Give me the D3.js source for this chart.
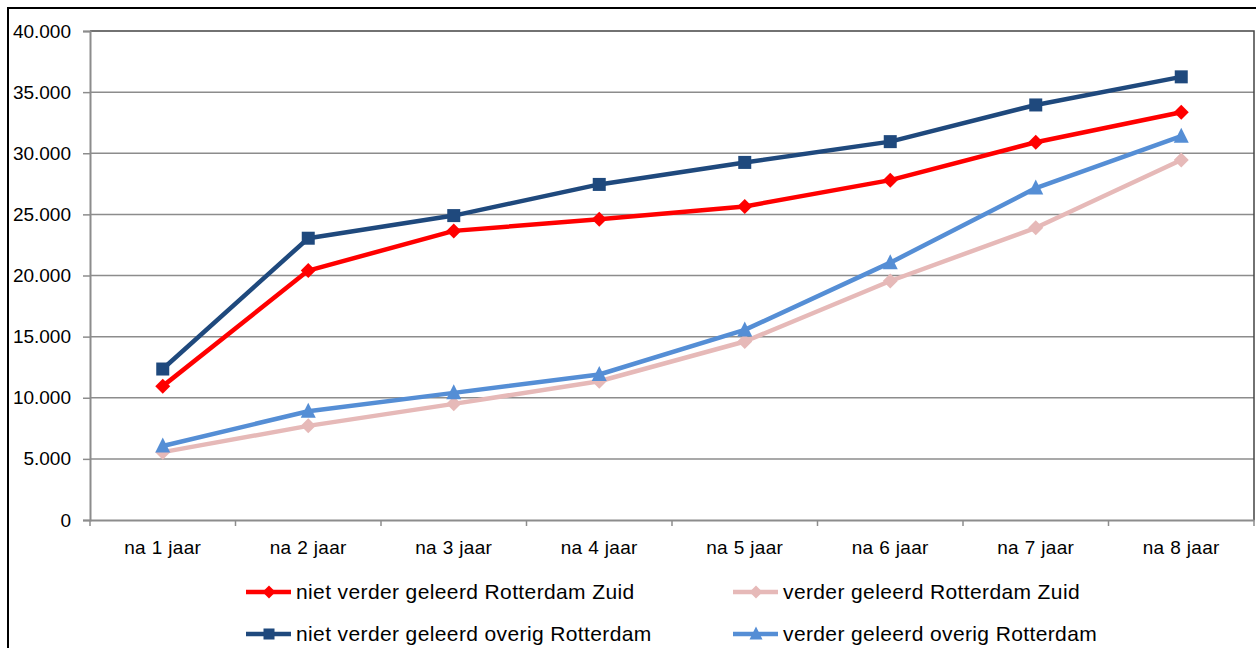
<!DOCTYPE html>
<html>
<head>
<meta charset="utf-8">
<script src="https://cdn.jsdelivr.net/npm/d3@7"></script>
<style>
  body { margin: 0; background: #fff; }
  text { font-family: "Liberation Sans", Arial, sans-serif; fill: #000; }
</style>
</head>
<body>
<script>
// Data
const categories = ["na 1 jaar", "na 2 jaar", "na 3 jaar", "na 4 jaar", "na 5 jaar", "na 6 jaar", "na 7 jaar", "na 8 jaar"];
const nietZuid = [10950, 20400, 23650, 24600, 25650, 27800, 30900, 33350];
const verderZuid = [5550, 7700, 9500, 11350, 14600, 19550, 23900, 29450];
const nietOverig = [12350, 23050, 24900, 27450, 29250, 30950, 33950, 36250];
const verderOverig = [6050, 8900, 10400, 11900, 15550, 21050, 27150, 31400];
const yTicks = [0, 5000, 10000, 15000, 20000, 25000, 30000, 35000, 40000];

const series = [
  { name: "niet verder geleerd Rotterdam Zuid", values: nietZuid, color: "#ff0000", marker: "diamond" },
  { name: "verder geleerd Rotterdam Zuid", values: verderZuid, color: "#e6b9b8", marker: "diamond" },
  { name: "niet verder geleerd overig Rotterdam", values: nietOverig, color: "#1f497d", marker: "square" },
  { name: "verder geleerd overig Rotterdam", values: verderOverig, color: "#558ed5", marker: "triangle" }
];

const W = 1256, H = 648;
const plot = { left: 90, right: 1254, top: 31, bottom: 520 };

const svg = d3.select("body").append("svg")
  .attr("width", W)
  .attr("height", H);

// outer frame
svg.append("rect")
  .attr("x", 8).attr("y", 8)
  .attr("width", 1262).attr("height", 700)
  .attr("fill", "none").attr("stroke", "#000").attr("stroke-width", 2);

const x = d3.scaleBand().domain(categories).range([plot.left, plot.right]);
const y = d3.scaleLinear().domain([0, 40000]).range([plot.bottom, plot.top]);

// gridlines
svg.append("g")
  .selectAll("line")
  .data(yTicks.filter(d => d > 0 && d < 40000))
  .enter().append("line")
  .attr("x1", plot.left).attr("x2", plot.right)
  .attr("y1", d => y(d)).attr("y2", d => y(d))
  .attr("stroke", "#8c8c8c").attr("stroke-width", 1.5);

// plot area top/right border
svg.append("path")
  .attr("d", `M${plot.left},${y(40000)}H${plot.right}V${plot.bottom}`)
  .attr("fill", "none").attr("stroke", "#444").attr("stroke-width", 1.5);

// Y axis
const yAxis = d3.axisLeft(y).tickValues(yTicks).tickSize(7).tickPadding(12)
  .tickFormat(d => d === 0 ? "0" : d3.format(",.0f")(d).replace(/,/g, "."));
const gy = svg.append("g")
  .attr("transform", `translate(${plot.left},0)`)
  .call(yAxis);
gy.select(".domain").attr("stroke", "#8c8c8c").attr("stroke-width", 2);
gy.selectAll(".tick line").attr("stroke", "#8c8c8c").attr("stroke-width", 1.5);
gy.selectAll(".tick text").attr("font-size", 19).attr("font-family", "Liberation Sans, Arial, sans-serif").attr("fill", "#000");

// X axis
const xAxis = d3.axisBottom(x).tickSize(0).tickPadding(21);
const gx = svg.append("g")
  .attr("transform", `translate(0,${plot.bottom})`)
  .call(xAxis);
gx.select(".domain").attr("stroke", "#8c8c8c").attr("stroke-width", 2);
gx.selectAll(".tick text").attr("font-size", 19).attr("letter-spacing", 0.35)
  .attr("font-family", "Liberation Sans, Arial, sans-serif").attr("fill", "#000");
// tick marks between categories
gx.selectAll(".sep")
  .data(d3.range(categories.length + 1))
  .enter().append("line")
  .attr("x1", i => plot.left + i * x.step()).attr("x2", i => plot.left + i * x.step())
  .attr("y1", 0).attr("y2", 6)
  .attr("stroke", "#8c8c8c").attr("stroke-width", 1.5);

const cx = c => x(c) + x.bandwidth() / 2;

function drawMarker(g, type, color, size) {
  if (type === "square") {
    g.append("rect").attr("x", -size / 2).attr("y", -size / 2)
      .attr("width", size).attr("height", size).attr("fill", color);
  } else if (type === "diamond") {
    const s = size / 2 + 1;
    g.append("path").attr("d", `M0,${-s}L${s},0L0,${s}L${-s},0Z`).attr("fill", color);
  } else {
    const s = size / 2 + 1;
    g.append("path").attr("d", `M0,${-s - 1}L${s},${s - 1}L${-s},${s - 1}Z`).attr("fill", color);
  }
}

const line = d3.line()
  .x((d, i) => cx(categories[i]))
  .y(d => y(d));

// draw in reverse legend order so red sits on top
const drawOrder = [series[1], series[3], series[2], series[0]];
drawOrder.forEach(s => {
  const g = svg.append("g");
  g.append("path")
    .datum(s.values)
    .attr("d", line)
    .attr("fill", "none")
    .attr("stroke", s.color)
    .attr("stroke-width", 4.5)
    .attr("stroke-linejoin", "round");
  g.selectAll(".m")
    .data(s.values)
    .enter().append("g")
    .attr("transform", (d, i) => `translate(${cx(categories[i])},${y(d)})`)
    .each(function () { drawMarker(d3.select(this), s.marker, s.color, 13); });
});

// legend
const legendPos = [
  { x: 246, y: 592 }, { x: 733, y: 592 },
  { x: 246, y: 634 }, { x: 733, y: 634 }
];
series.forEach((s, i) => {
  const p = legendPos[i];
  const g = svg.append("g").attr("transform", `translate(${p.x},${p.y})`);
  g.append("line").attr("x1", 0).attr("x2", 45).attr("y1", 0).attr("y2", 0)
    .attr("stroke", s.color).attr("stroke-width", 4.5);
  const m = g.append("g").attr("transform", "translate(23,0)");
  drawMarker(m, s.marker, s.color, 11);
  g.append("text")
    .attr("x", 50).attr("y", 7)
    .attr("font-size", 21)
    .attr("letter-spacing", 0.38)
    .text(s.name);
});
</script>
</body>
</html>
